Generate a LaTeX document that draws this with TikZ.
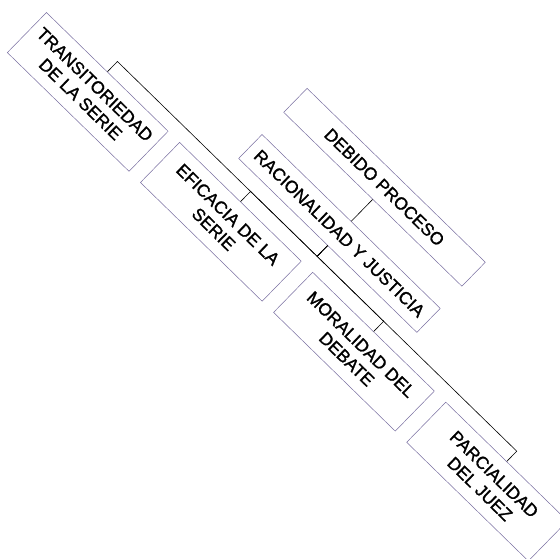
\documentclass[tikz,border=0pt]{standalone}
\usepackage{fontspec}
\setmainfont{Liberation Sans}[FakeBold=1.2]
\usepackage{color}
\usepackage{tikz}
\definecolor{boxline}{RGB}{120,110,160}

\begin{document}
\begin{tikzpicture}[
			every node/.style = {shape=rectangle,
				draw=boxline, line width=0.5pt, align=center,
				inner sep=0pt, font=\fontsize{17.5}{20.5}\selectfont},
			wide/.style = {minimum width=249pt, minimum height=33.5pt},
			leaf/.style = {minimum width=170pt, minimum height=56pt},
			edge from parent/.style = {draw=black, line width=0.6pt},
			level 1/.style={level distance=64.5pt},
			level 2/.style={sibling distance=186pt, level distance=74.5pt,
				edge from parent path={(\tikzparentnode.south) -- ++(0,-15pt) -| (\tikzchildnode.north)}}]
		\useasboundingbox (0,0) rectangle (560pt,-559pt);
		\begin{scope}[rotate=-44.3, transform shape]
			\node[wide] (debido) at (406pt,134.5pt) {DEBIDO PROCESO}
				child { node[wide] (racional) {RACIONALIDAD Y JUSTICIA}
					child { node[leaf] (transit) {TRANSITORIEDAD\\DE LA SERIE} }
					child { node[leaf] (eficacia) {EFICACIA DE LA\\SERIE} }
					child { node[leaf] (moral) {MORALIDAD DEL\\DEBATE} }
					child { node[leaf] (parcial) {PARCIALIDAD\\DEL JUEZ} }
				};
		\end{scope}
\end{tikzpicture}
\end{document}
